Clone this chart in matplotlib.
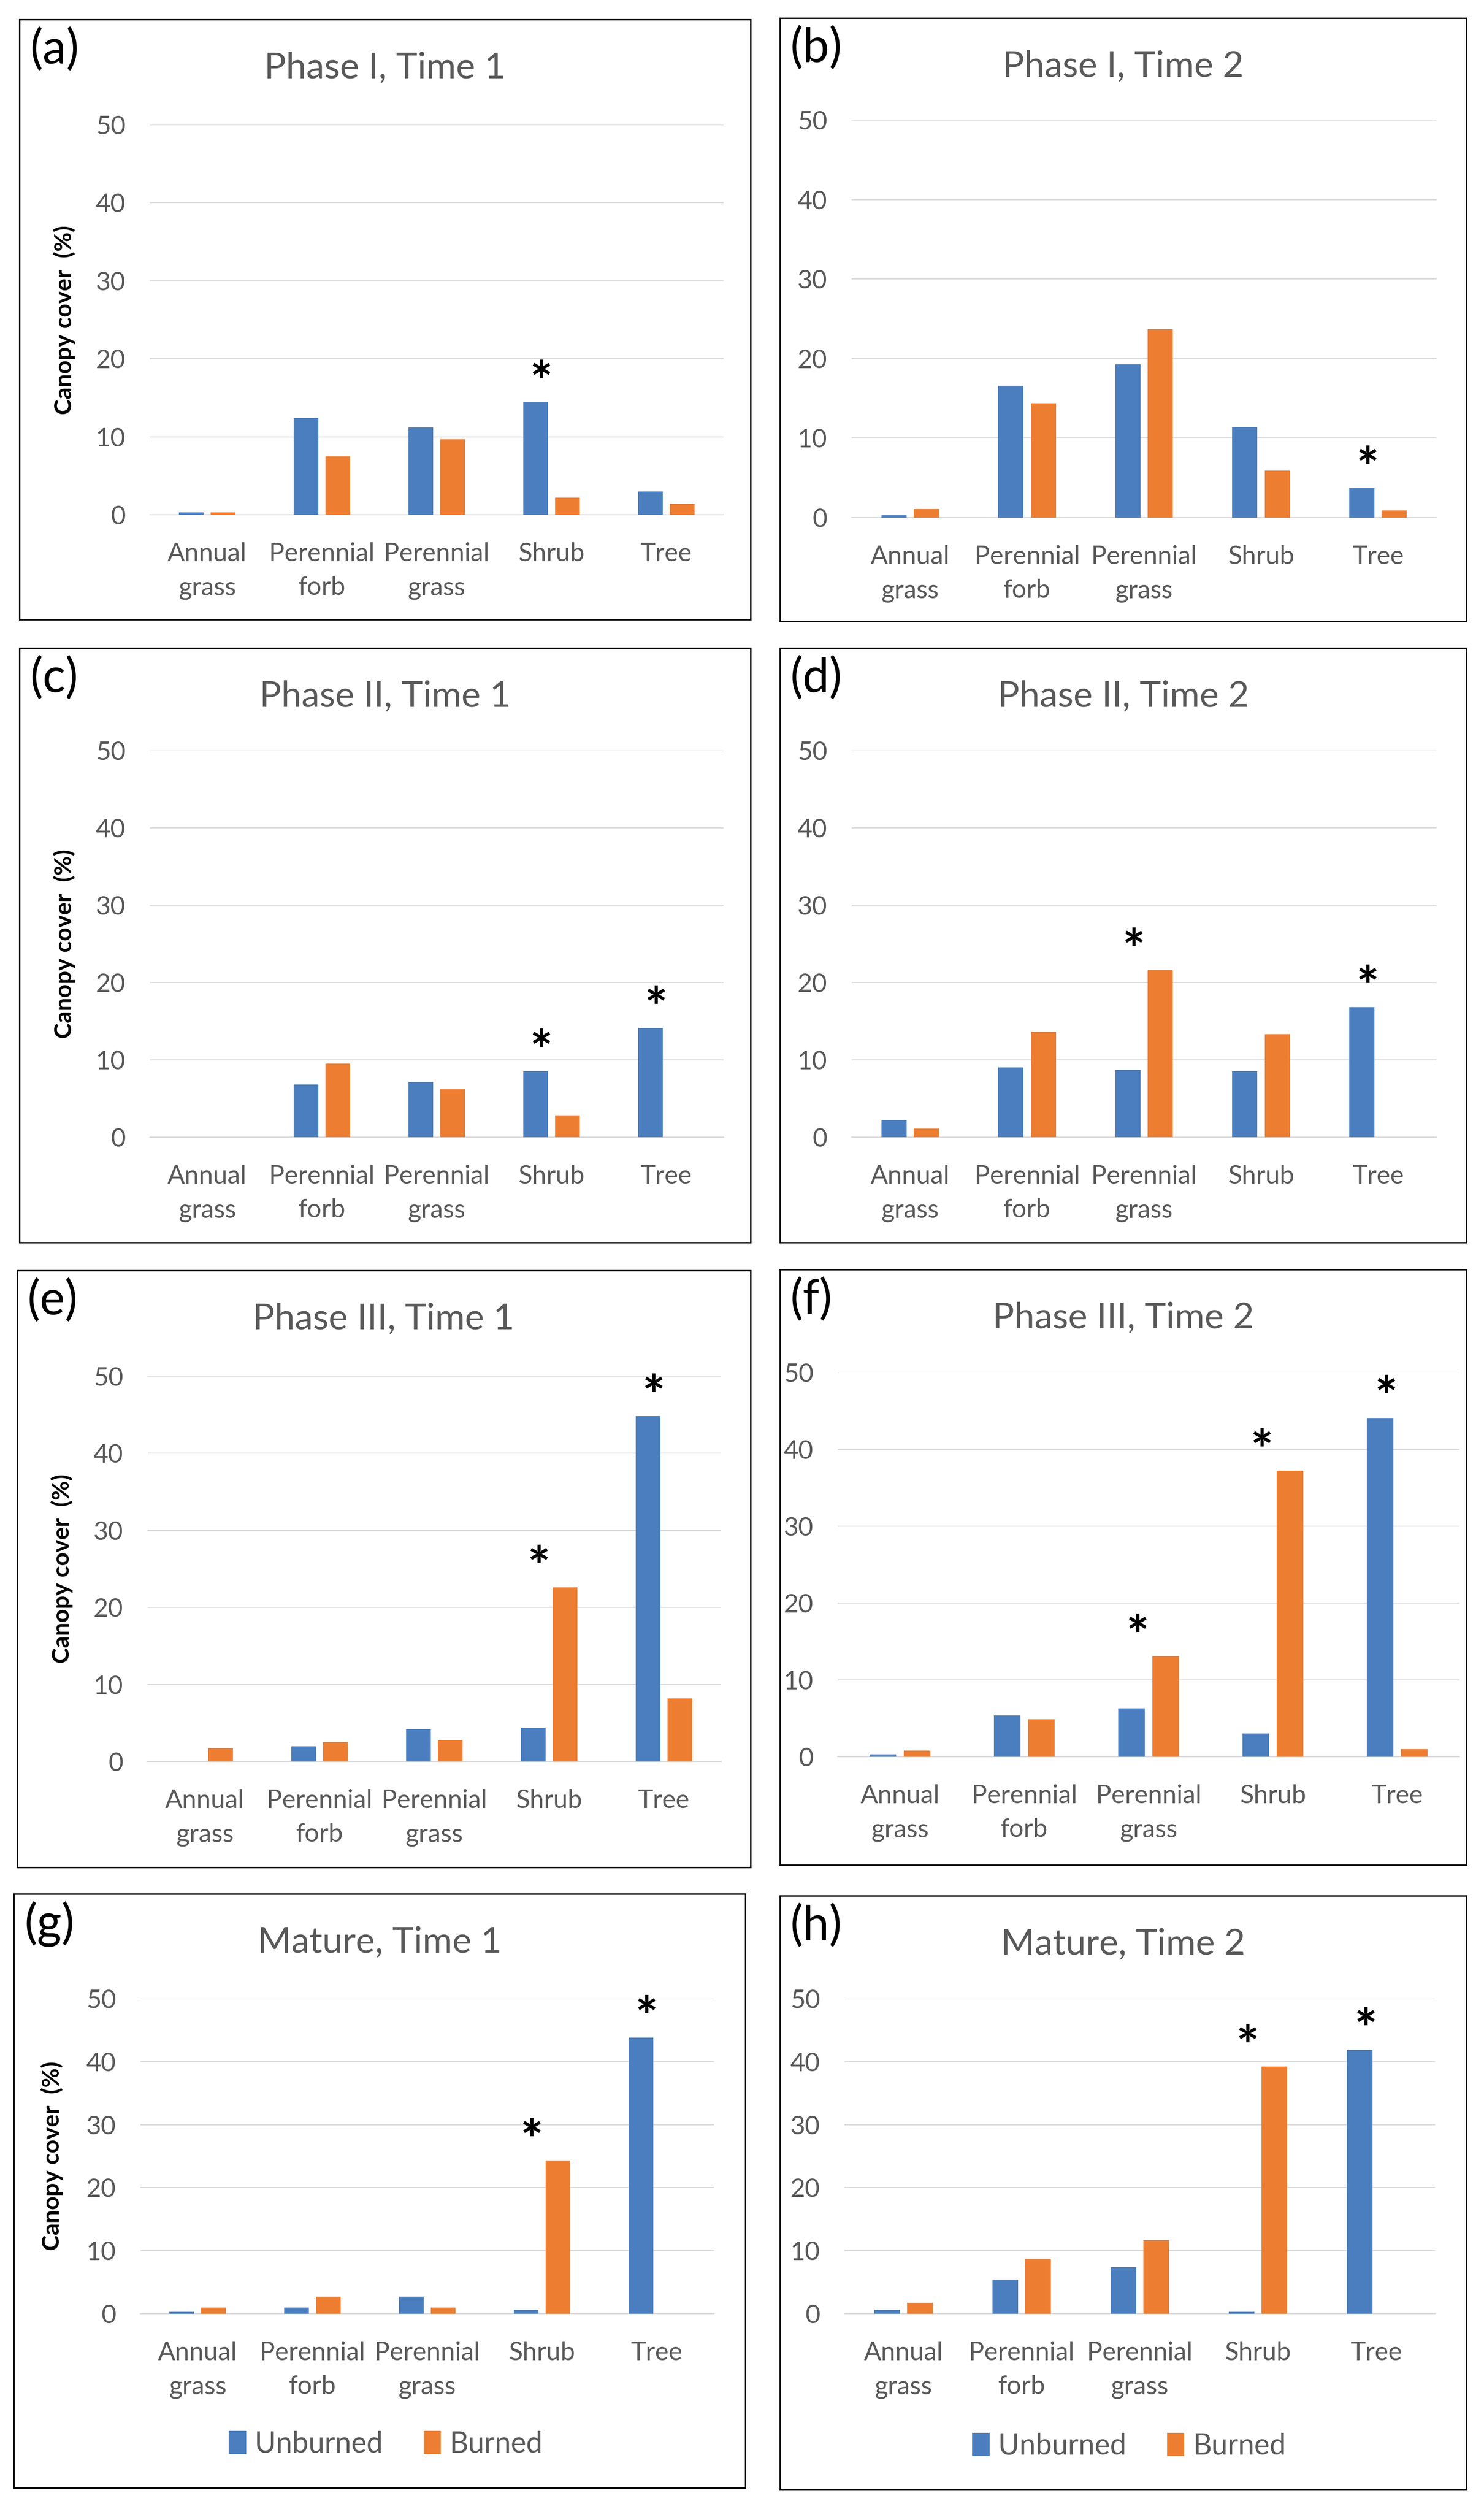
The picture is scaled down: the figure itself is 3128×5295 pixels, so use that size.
import matplotlib
matplotlib.use("Agg")
import matplotlib.pyplot as plt
from matplotlib.patches import Rectangle
import numpy as np

plt.rcParams['font.family'] = ['Lato', 'DejaVu Sans']

# figure size in pixels (dpi 100)
W, H = 3128, 5295

categories = ["Annual\ngrass", "Perennial\nforb", "Perennial\ngrass", "Shrub", "Tree"]
series_names = ["Unburned", "Burned"]
titles = ["Phase I, Time 1", "Phase I, Time 2",
          "Phase II, Time 1", "Phase II, Time 2",
          "Phase III, Time 1", "Phase III, Time 2",
          "Mature, Time 1", "Mature, Time 2"]
panel_tags = ["(a)", "(b)", "(c)", "(d)", "(e)", "(f)", "(g)", "(h)"]
yticks = [0, 10, 20, 30, 40, 50]

# canopy cover (%)
p1t1_unburned = [0.3, 12.4, 11.2, 14.4, 3.0]
p1t1_burned = [0.3, 7.5, 9.7, 2.2, 1.4]
p1t2_unburned = [0.3, 16.6, 19.3, 11.4, 3.7]
p1t2_burned = [1.1, 14.4, 23.7, 5.9, 0.9]
p2t1_unburned = [0.0, 6.8, 7.1, 8.5, 14.1]
p2t1_burned = [0.0, 9.5, 6.2, 2.8, 0.0]
p2t2_unburned = [2.2, 9.0, 8.7, 8.5, 16.8]
p2t2_burned = [1.1, 13.6, 21.6, 13.3, 0.0]
p3t1_unburned = [0.0, 2.0, 4.2, 4.4, 44.8]
p3t1_burned = [1.7, 2.5, 2.8, 22.6, 8.2]
p3t2_unburned = [0.3, 5.4, 6.3, 3.0, 44.1]
p3t2_burned = [0.8, 4.9, 13.1, 37.2, 1.0]
mat_t1_unburned = [0.3, 1.0, 2.7, 0.6, 43.8]
mat_t1_burned = [1.0, 2.7, 1.0, 24.3, 0.0]
mat_t2_unburned = [0.6, 5.4, 7.4, 0.3, 41.9]
mat_t2_burned = [1.7, 8.7, 11.7, 39.2, 0.0]

# categories with a significant burned/unburned difference (*)
p1t1_sig = [3]
p1t2_sig = [4]
p2t1_sig = [3, 4]
p2t2_sig = [2, 4]
p3t1_sig = [3, 4]
p3t2_sig = [2, 3, 4]
mat_t1_sig = [3, 4]
mat_t2_sig = [3, 4]

unburned = [p1t1_unburned, p1t2_unburned, p2t1_unburned, p2t2_unburned,
            p3t1_unburned, p3t2_unburned, mat_t1_unburned, mat_t2_unburned]
burned = [p1t1_burned, p1t2_burned, p2t1_burned, p2t2_burned,
          p3t1_burned, p3t2_burned, mat_t1_burned, mat_t2_burned]
significant = [p1t1_sig, p1t2_sig, p2t1_sig, p2t2_sig,
               p3t1_sig, p3t2_sig, mat_t1_sig, mat_t2_sig]

# layout in pixels: panel frame (x0, y0, x1, y1) and plot area (left, top, right, zero line)
frames = [(41, 41, 1582, 1306), (1644, 38, 3091, 1310),
          (41, 1366, 1582, 2619), (1644, 1366, 3091, 2619),
          (36, 2678, 1582, 3936), (1644, 2676, 3091, 3931),
          (29, 3992, 1571, 5244), (1644, 3996, 3091, 5247)]
plot_areas = [(316, 263, 1525, 1085), (1795, 253, 3028, 1091),
              (316, 1582, 1525, 2397), (1795, 1582, 3028, 2397),
              (311, 2901, 1520, 3713), (1766, 2893, 3076, 3703),
              (296, 4213, 1505, 4877), (1780, 4213, 3025, 4877)]
legend_pos = {6: (813, 5152), 7: (2380, 5156)}

BLUE = '#4A7EBF'
ORANGE = '#ED7D31'
GRID = '#D9D9D9'
TEXT = '#595959'

fig = plt.figure(figsize=(W / 100, H / 100), dpi=100)
x = np.arange(len(categories))
bar_w = 0.215
off = bar_w / 2 + 0.031

for i in range(8):
    fx0, fy0, fx1, fy1 = frames[i]
    fig.patches.append(Rectangle((fx0 / W, 1 - fy1 / H), (fx1 - fx0) / W, (fy1 - fy0) / H,
                                 transform=fig.transFigure, fill=False,
                                 edgecolor='black', linewidth=2.2))
    fig.text((fx0 + 22) / W, 1 - (fy0 + 64) / H, panel_tags[i], fontsize=72,
             ha='left', va='center', color='black')
    fig.text((fx0 + fx1) / 2 / W, 1 - (fy0 + 102) / H, titles[i], fontsize=55,
             ha='center', va='center', color=TEXT)

    l, t, r, b = plot_areas[i]
    ax = fig.add_axes([l / W, 1 - b / H, (r - l) / W, (b - t) / H])
    b1 = ax.bar(x - off, unburned[i], bar_w, color=BLUE, label=series_names[0], zorder=3)
    b2 = ax.bar(x + off, burned[i], bar_w, color=ORANGE, label=series_names[1], zorder=3)

    ax.set_xlim(-0.5, len(categories) - 0.5)
    ax.set_ylim(0, 50)
    ax.set_yticks(yticks)
    ax.set_yticklabels([str(v) for v in yticks])
    ax.set_xticks(x, categories, linespacing=1.55)
    ax.tick_params(axis='both', length=0, labelcolor=TEXT, labelsize=39)
    ax.tick_params(axis='y', pad=37)
    ax.tick_params(axis='x', pad=42)
    ax.grid(axis='y', color=GRID, linewidth=1.6, zorder=0)
    for s in ['top', 'right', 'left']:
        ax.spines[s].set_visible(False)
    ax.spines['bottom'].set_color(GRID)
    ax.spines['bottom'].set_linewidth(1.6)
    ax.set_facecolor('none')

    for k in significant[i]:
        top = max(unburned[i][k], burned[i][k])
        ax.annotate('*', xy=(x[k] - 0.09, top), xytext=(0, 26), textcoords='offset points',
                    ha='center', va='center', fontsize=82, fontweight='bold',
                    color='black', annotation_clip=False)

    if i % 2 == 0:
        ax.set_ylabel('Canopy cover  (%)', fontsize=36, fontweight='bold', color='black')
        ax.yaxis.set_label_coords((fx0 + (118 if i < 6 else 104) - l) / (r - l), 0.5)

    if i in legend_pos:
        lx, ly = legend_pos[i]
        ax.legend([b1, b2], series_names, loc='center', bbox_to_anchor=(lx / W, 1 - ly / H),
                  bbox_transform=fig.transFigure, ncol=2, frameon=False, fontsize=44,
                  labelcolor=TEXT, handlelength=0.6, handleheight=0.85,
                  handletextpad=0.3, columnspacing=1.4)

fig.savefig('out.png', dpi=100, facecolor='white')
